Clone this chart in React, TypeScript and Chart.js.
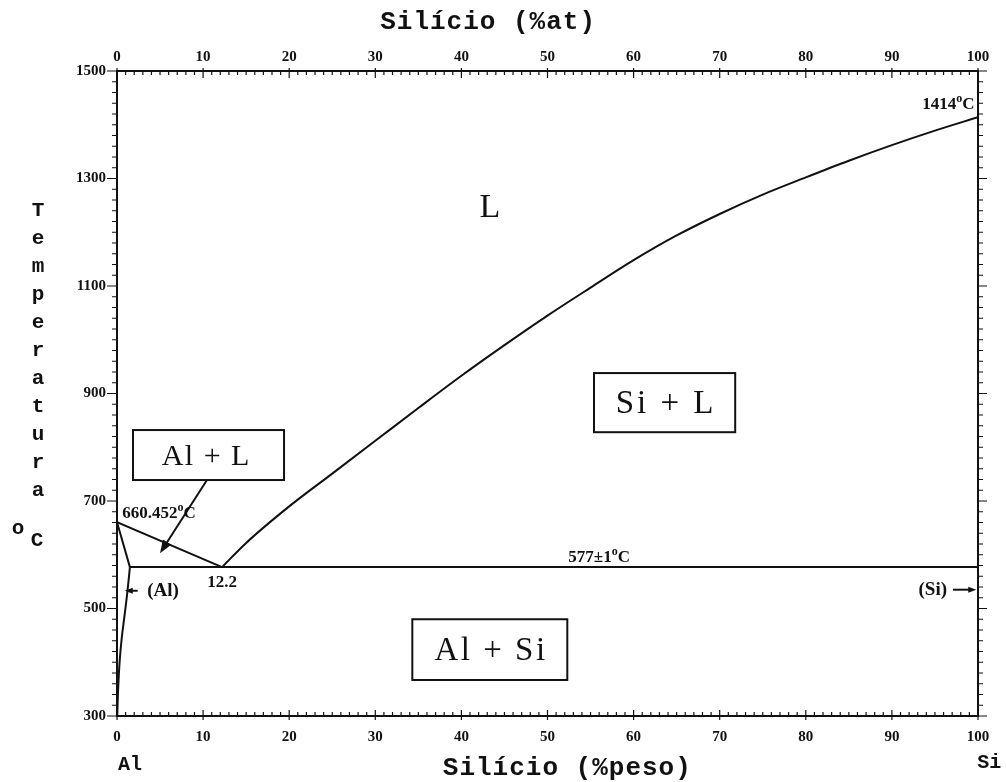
import React, { useEffect, useRef } from 'react';
import { Chart, registerables } from 'chart.js';

Chart.register(...registerables);

// ---- Data (wt% Si vs temperature °C) ----
const wtTicks = [0, 10, 20, 30, 40, 50, 60, 70, 80, 90, 100];
const tempTicks = [300, 500, 700, 900, 1100, 1300, 1500];

const liquidusAlX = [0, 12.2];
const liquidusAlT = [660.452, 577];

const liquidusSiX = [12.2, 15, 20, 25, 30, 35, 40, 45, 50, 55, 60, 65, 70, 75, 80, 85, 90, 95, 100];
const liquidusSiT = [577, 622, 690, 751, 812, 873, 933, 990, 1045, 1097, 1148, 1194, 1234, 1270, 1302, 1333, 1362, 1389, 1414];

const eutecticX = [1.5, 100];
const eutecticT = [577, 577];

const solidusX = [0, 1.5];
const solidusT = [660.452, 577];

const solvusX = [1.5, 1.2, 0.9, 0.55, 0.3, 0.12, 0.03];
const solvusT = [577, 530, 490, 445, 400, 345, 300];

// ---- Annotations (data coordinates) ----
const boxes = [
  { text: 'Al + L', x1: 1.86, x2: 19.4, t1: 832, t2: 739, size: 30, spacing: 1.5, dx: -3 },
  { text: 'Si + L', x1: 55.4, x2: 71.8, t1: 938, t2: 828, size: 33, spacing: 3, dx: 0 },
  { text: 'Al + Si', x1: 34.3, x2: 52.3, t1: 480, t2: 367, size: 33, spacing: 2.5, dx: 0 },
];

const arrows = [
  { x1: 10.45, t1: 739, x2: 5.0, t2: 603, head: 13 },
  { x1: 2.4, t1: 533, x2: 0.9, t2: 533, head: 8 },
  { x1: 97.1, t1: 535, x2: 99.8, t2: 535, head: 8 },
];

const pointLabels = [
  { parts: [['1414', false], ['o', true], ['C', false]], x: 99.6, t: 1437, align: 'right', size: 17 },
  { parts: [['660.452', false], ['o', true], ['C', false]], x: 0.6, t: 676, align: 'left', size: 17 },
  { parts: [['12.2', false]], x: 12.2, t: 549, align: 'center', size: 17 },
  { parts: [['577\u00B11', false], ['o', true], ['C', false]], x: 56.0, t: 594, align: 'center', size: 17 },
  { parts: [['(Al)', false]], x: 3.5, t: 532, align: 'left', size: 19 },
  { parts: [['(Si)', false]], x: 96.4, t: 535, align: 'right', size: 19 },
];

const phaseLabelL = { text: 'L', x: 43.3, t: 1245 };

const topTitle = 'Silício (%at)';
const bottomTitle = 'Silício (%peso)';
const yTitleLetters = 'Temperatura'.split('');

function toPts(xs: number[], ts: number[]) {
  return xs.map((x, i) => ({ x, y: ts[i] }));
}

const SERIF = "'Liberation Serif', 'Times New Roman', serif";
const MONO = "'Liberation Mono', 'Courier New', monospace";

function drawRich(ctx: CanvasRenderingContext2D, parts: any[], x: number, y: number, align: string, size: number) {
  const mainFont = `bold ${size}px ${SERIF}`;
  const supFont = `bold ${Math.round(size * 0.7)}px ${SERIF}`;
  let total = 0;
  const widths = parts.map(([t, sup]) => {
    ctx.font = sup ? supFont : mainFont;
    const w = ctx.measureText(t).width;
    total += w;
    return w;
  });
  let cx = align === 'right' ? x - total : align === 'center' ? x - total / 2 : x;
  ctx.textAlign = 'left';
  ctx.textBaseline = 'middle';
  parts.forEach(([t, sup]: any, i: number) => {
    ctx.font = sup ? supFont : mainFont;
    ctx.fillText(t, cx, sup ? y - size * 0.33 : y);
    cx += widths[i];
  });
}

const decorPlugin = {
  id: 'phaseDecor',
  afterDraw(chart: any) {
    const ctx: CanvasRenderingContext2D = chart.ctx;
    const xs = chart.scales.x;
    const ys = chart.scales.y;
    const ca = chart.chartArea;
    const px = (v: number) => xs.getPixelForValue(v);
    const py = (v: number) => ys.getPixelForValue(v);
    ctx.save();
    ctx.strokeStyle = '#111';
    ctx.fillStyle = '#111';

    // tick marks
    ctx.lineWidth = 1.2;
    ctx.beginPath();
    for (let v = 0; v <= 100; v += 1) {
      const X = px(v);
      const major = v % 10 === 0;
      ctx.moveTo(X, ca.bottom + (major ? 4 : 0));
      ctx.lineTo(X, ca.bottom - (major ? 6 : 4));
      ctx.moveTo(X, ca.top - (major ? 3 : 0));
      ctx.lineTo(X, ca.top + (major ? 7 : 4));
    }
    for (let t = 300; t <= 1500; t += 20) {
      const Y = py(t);
      const major = (t - 300) % 200 === 0;
      ctx.moveTo(ca.left, Y);
      ctx.lineTo(ca.left - (major ? 10 : 5), Y);
      ctx.moveTo(ca.right, Y);
      ctx.lineTo(ca.right + (major ? 9 : 5), Y);
    }
    ctx.stroke();

    // boxes
    boxes.forEach((b) => {
      const x1 = px(b.x1), x2 = px(b.x2), y1 = py(b.t1), y2 = py(b.t2);
      ctx.fillStyle = '#fff';
      ctx.fillRect(x1, y1, x2 - x1, y2 - y1);
      ctx.lineWidth = 2;
      ctx.strokeStyle = '#111';
      ctx.strokeRect(x1, y1, x2 - x1, y2 - y1);
      ctx.fillStyle = '#111';
      ctx.font = `${b.size}px ${SERIF}`;
      ctx.textAlign = 'center';
      ctx.textBaseline = 'middle';
      (ctx as any).letterSpacing = `${b.spacing}px`;
      ctx.fillText(b.text, (x1 + x2) / 2 + b.spacing / 2 + b.dx, (y1 + y2) / 2 + 2);
      (ctx as any).letterSpacing = '0px';
    });

    // arrows
    ctx.strokeStyle = '#111';
    ctx.fillStyle = '#111';
    arrows.forEach((a) => {
      const X1 = px(a.x1), Y1 = py(a.t1), X2 = px(a.x2), Y2 = py(a.t2);
      const ang = Math.atan2(Y2 - Y1, X2 - X1);
      const h = a.head;
      ctx.lineWidth = 2;
      ctx.beginPath();
      ctx.moveTo(X1, Y1);
      ctx.lineTo(X2 - Math.cos(ang) * h * 0.7, Y2 - Math.sin(ang) * h * 0.7);
      ctx.stroke();
      ctx.beginPath();
      ctx.moveTo(X2, Y2);
      ctx.lineTo(X2 - h * Math.cos(ang) + (h * 0.38) * Math.sin(ang), Y2 - h * Math.sin(ang) - (h * 0.38) * Math.cos(ang));
      ctx.lineTo(X2 - h * Math.cos(ang) - (h * 0.38) * Math.sin(ang), Y2 - h * Math.sin(ang) + (h * 0.38) * Math.cos(ang));
      ctx.closePath();
      ctx.fill();
    });

    // small labels
    pointLabels.forEach((l) => drawRich(ctx, l.parts, px(l.x), py(l.t), l.align, l.size));

    // phase label L
    ctx.font = `34px ${SERIF}`;
    ctx.textAlign = 'center';
    ctx.textBaseline = 'middle';
    ctx.fillText(phaseLabelL.text, px(phaseLabelL.x), py(phaseLabelL.t));

    // axis titles
    ctx.font = `bold 26px ${MONO}`;
    (ctx as any).letterSpacing = '1px';
    ctx.textAlign = 'center';
    ctx.textBaseline = 'middle';
    ctx.fillText(topTitle, px(43.1), ca.top - 49);
    ctx.fillText(bottomTitle, px(52.3), ca.bottom + 52);
    (ctx as any).letterSpacing = '0px';

    ctx.font = `bold 20px ${MONO}`;
    ctx.fillText('Al', px(1.5), ca.bottom + 49);
    ctx.fillText('Si', px(101.3), ca.bottom + 47);

    // vertical y title
    ctx.font = `bold 21px ${MONO}`;
    const yStart = py(1240);
    yTitleLetters.forEach((ch, i) => {
      ctx.fillText(ch, 38, yStart + i * 28);
    });
    ctx.fillText('o', 18, py(648));
    ctx.fillText('C', 37, py(627));

    ctx.restore();
  },
};

export default function App() {
  const ref = useRef<HTMLCanvasElement | null>(null);
  useEffect(() => {
    if (!ref.current) return;
    const lineStyle = {
      showLine: true,
      borderColor: '#111',
      borderWidth: 2,
      pointRadius: 0,
      fill: false,
    };
    const tickFont = { family: SERIF, size: 15, weight: 'bold' as const };
    const plain = (v: any) => String(v);
    const chart = new Chart(ref.current, {
      type: 'scatter',
      data: {
        datasets: [
          { ...lineStyle, data: toPts(liquidusAlX, liquidusAlT) },
          { ...lineStyle, data: toPts(liquidusSiX, liquidusSiT), cubicInterpolationMode: 'monotone' },
          { ...lineStyle, data: toPts(eutecticX, eutecticT) },
          { ...lineStyle, data: toPts(solidusX, solidusT) },
          { ...lineStyle, data: toPts(solvusX, solvusT), tension: 0.3 },
        ] as any,
      },
      options: {
        animation: false,
        responsive: true,
        maintainAspectRatio: false,
        layout: { padding: 0 },
        plugins: { legend: { display: false }, tooltip: { enabled: false }, title: { display: false } },
        scales: {
          x: {
            type: 'linear',
            position: 'bottom',
            min: 0,
            max: 100,
            afterBuildTicks: (s: any) => { s.ticks = wtTicks.map((v) => ({ value: v })); },
            ticks: { font: tickFont, color: '#111', padding: 12, maxRotation: 0, autoSkip: false, callback: plain },
            grid: { display: false, drawTicks: false },
            border: { display: true, color: '#111', width: 2 },
            afterFit: (s: any) => { s.height = 66; },
          },
          x2: {
            type: 'linear',
            position: 'top',
            min: 0,
            max: 100,
            afterBuildTicks: (s: any) => { s.ticks = wtTicks.map((v) => ({ value: v })); },
            ticks: { font: tickFont, color: '#111', padding: 5, maxRotation: 0, autoSkip: false, callback: plain },
            grid: { display: false, drawTicks: false },
            border: { display: true, color: '#111', width: 2 },
            afterFit: (s: any) => { s.height = 71; },
          },
          y: {
            type: 'linear',
            position: 'left',
            min: 300,
            max: 1500,
            afterBuildTicks: (s: any) => { s.ticks = tempTicks.map((v) => ({ value: v })); },
            ticks: { font: { ...tickFont, size: 15 }, color: '#111', padding: 11, callback: plain },
            grid: { display: false, drawTicks: false },
            border: { display: true, color: '#111', width: 2 },
            afterFit: (s: any) => { s.width = 117; },
          },
          y2: {
            type: 'linear',
            position: 'right',
            min: 300,
            max: 1500,
            ticks: { display: false },
            grid: { display: false, drawTicks: false },
            border: { display: true, color: '#111', width: 2 },
            afterFit: (s: any) => { s.width = 28; },
          },
        },
      } as any,
      plugins: [decorPlugin],
    });
    return () => chart.destroy();
  }, []);

  return (
    <div style={{ position: 'fixed', left: 0, top: 0, width: 1006, height: 782, background: '#fff' }}>
      <canvas ref={ref} />
    </div>
  );
}
